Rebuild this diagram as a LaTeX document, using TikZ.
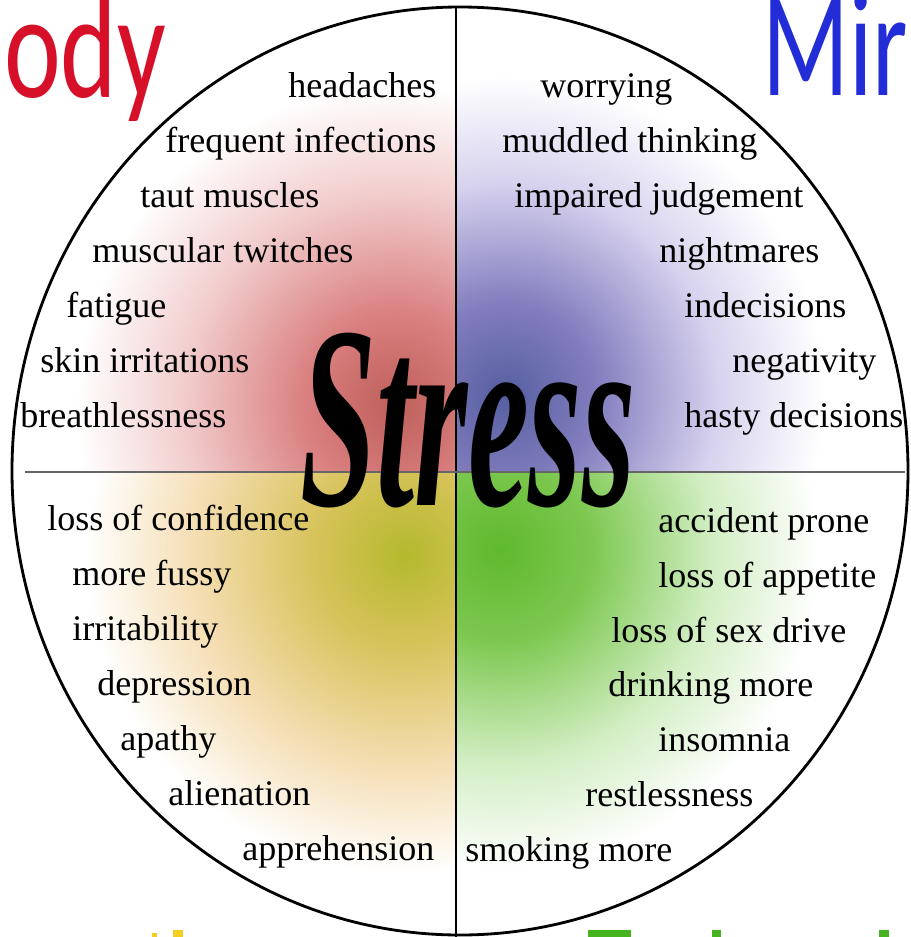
\documentclass[tikz,border=0pt]{standalone}
\usepackage{fontspec}
\setmainfont{Liberation Serif}
\newfontfamily\headfont{Carlito}
\usepackage{xcolor}
\usepackage{tikz}
\usetikzlibrary{positioning}

\definecolor{bodyred}{RGB}{215,16,42}
\definecolor{mindblue}{RGB}{35,45,215}
\definecolor{fragyellow}{RGB}{245,205,30}
\definecolor{fraggreen}{RGB}{70,180,30}
% glow colours of the four quarters
\definecolor{bodyA}{RGB}{190,95,90}
\definecolor{bodyB}{RGB}{218,128,128}
\definecolor{bodyC}{RGB}{242,205,205}
\definecolor{mindA}{RGB}{85,95,160}
\definecolor{mindB}{RGB}{130,125,190}
\definecolor{mindC}{RGB}{215,210,238}
\definecolor{emoA}{RGB}{180,185,45}
\definecolor{emoB}{RGB}{215,195,90}
\definecolor{emoC}{RGB}{245,222,180}
\definecolor{behA}{RGB}{95,185,45}
\definecolor{behB}{RGB}{125,200,80}
\definecolor{behC}{RGB}{210,238,195}

\pgfdeclareradialshading{bodyglow}{\pgfpoint{0bp}{0bp}}{color(0bp)=(bodyA); color(6bp)=(bodyB); color(14bp)=(bodyC); color(21bp)=(white); color(50bp)=(white)}
\pgfdeclareradialshading{mindglow}{\pgfpoint{0bp}{0bp}}{color(0bp)=(mindA); color(6bp)=(mindB); color(14bp)=(mindC); color(21bp)=(white); color(50bp)=(white)}
\pgfdeclareradialshading{emoglow}{\pgfpoint{0bp}{0bp}}{color(0bp)=(emoA); color(6bp)=(emoB); color(14bp)=(emoC); color(21bp)=(white); color(50bp)=(white)}
\pgfdeclareradialshading{behglow}{\pgfpoint{0bp}{0bp}}{color(0bp)=(behA); color(6bp)=(behB); color(14bp)=(behC); color(21bp)=(white); color(50bp)=(white)}

\begin{document}
\begin{tikzpicture}[
    x=0.02cm, y=-0.02cm,
    item/.style={anchor=base west, inner sep=0pt, font=\fontsize{20.5}{24}\selectfont},
    headword/.style={anchor=base west, inner sep=0pt, font=\headfont\fontsize{85}{85}\selectfont},
    stresstext/.style={anchor=base, inner sep=0pt, yscale=1.9, font=\fontsize{78}{78}\selectfont\bfseries\itshape},
    rim/.style={draw=black, line width=1.6pt},
    divider/.style={line width=1.4pt}
  ]
  \useasboundingbox (0,0) rectangle (910,937);

  % coloured glow, one per quarter
  \begin{scope}
    \clip (460,471) ellipse [x radius=448, y radius=464];
    \begin{scope}
      \clip (0,0) rectangle (456,472);
      \shade[shading=bodyglow] (395,405) circle [radius=380];
    \end{scope}
    \begin{scope}
      \clip (456,0) rectangle (910,472);
      \shade[shading=mindglow] (505,395) circle [radius=380];
    \end{scope}
    \begin{scope}
      \clip (0,472) rectangle (456,937);
      \shade[shading=emoglow] (405,555) circle [radius=380];
    \end{scope}
    \begin{scope}
      \clip (456,472) rectangle (910,937);
      \shade[shading=behglow] (500,550) circle [radius=380];
    \end{scope}
  \end{scope}

  % rim and dividers
  \coordinate (c) at (460,471);
  \coordinate (top) at (456,7);
  \coordinate (bottom) at (456,937);
  \coordinate (left) at (25,472);
  \coordinate (right) at (905,472);
  \draw[rim] (c) ellipse [x radius=448, y radius=464];
  \draw[divider] (top) -- (bottom);
  \draw[divider, black!60] (left) -- (right);

  % headings, cut by the page edge
  \node[headword, text=bodyred, xscale=0.72] (body) at (4,97) {ody};
  \node[headword, text=mindblue, xscale=0.68] (mind) at (762,95) {Mir};
  \fill[fragyellow] (152,933) rectangle (157,937);
  \fill[fragyellow] (173,930) rectangle (183,937);
  \fill[fraggreen] (588,930) rectangle (631,937);
  \fill[fraggreen] (712,930) rectangle (721,937);
  \fill[fraggreen] (879,930) rectangle (889,937);

  % body
  \node[item] (headaches) at (288,97) {headaches};
  \node[item] (infections) at (165,152) {frequent infections};
  \node[item] (taut) at (140,207) {taut muscles};
  \node[item] (twitches) at (92,262) {muscular twitches};
  \node[item] (fatigue) at (66,317) {fatigue};
  \node[item] (skin) at (40,372) {skin irritations};
  \node[item] (breath) at (20,427) {breathlessness};

  % mind
  \node[item] (worrying) at (540,97) {worrying};
  \node[item] (muddled) at (502,152) {muddled thinking};
  \node[item] (judgement) at (514,207) {impaired judgement};
  \node[item] (nightmares) at (659,262) {nightmares};
  \node[item] (indecisions) at (684,317) {indecisions};
  \node[item] (negativity) at (732,372) {negativity};
  \node[item] (hasty) at (684,427) {hasty decisions};

  % emotions
  \node[item] (confidence) at (47,530) {loss of confidence};
  \node[item] (fussy) at (72,585) {more fussy};
  \node[item] (irritability) at (72,640) {irritability};
  \node[item] (depression) at (97,695) {depression};
  \node[item] (apathy) at (120,750) {apathy};
  \node[item] (alienation) at (168,805) {alienation};
  \node[item] (apprehension) at (242,860) {apprehension};

  % behaviour
  \node[item] (accident) at (658,532) {accident prone};
  \node[item] (appetite) at (658,587) {loss of appetite};
  \node[item] (sexdrive) at (611,642) {loss of sex drive};
  \node[item] (drinking) at (608,696) {drinking more};
  \node[item] (insomnia) at (658,751) {insomnia};
  \node[item] (restless) at (585,806) {restlessness};
  \node[item] (smoking) at (465,861) {smoking more};

  \node[stresstext] (stress) at (468,505) {Stress};
\end{tikzpicture}
\end{document}
